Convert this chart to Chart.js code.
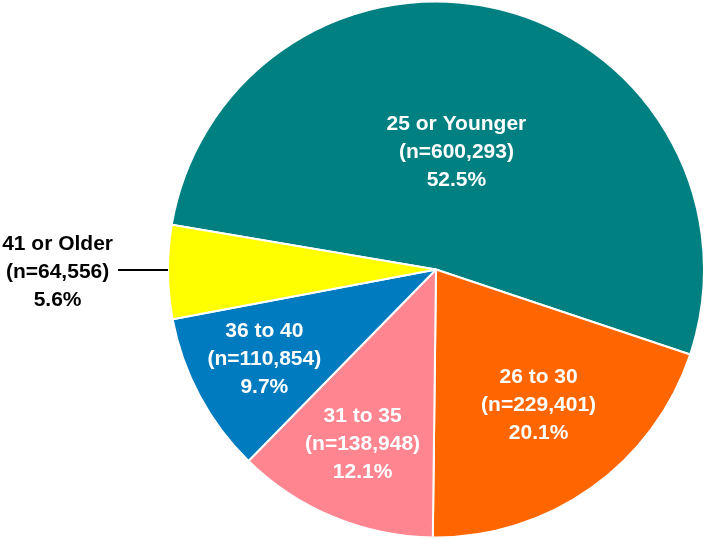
<!DOCTYPE html>
<html>
<head>
<meta charset="utf-8">
<script src="https://cdn.jsdelivr.net/npm/chart.js@4/dist/chart.umd.min.js"></script>
<style>
  html, body { margin: 0; padding: 0; background: #fff; }
  #wrap { width: 705px; height: 539px; }
</style>
</head>
<body>
<div id="wrap"><canvas id="pie"></canvas></div>
<script>
var categories = ['25 or Younger', '26 to 30', '31 to 35', '36 to 40', '41 or Older'];
var counts = [600293, 229401, 138948, 110854, 64556];
var shares = ['52.5%', '20.1%', '12.1%', '9.7%', '5.6%'];
var colors = ['#008080', '#FF6600', '#FF8690', '#007BC0', '#FFFF00'];

// where each label sits: fraction of radius and a small angle nudge (deg); null = outside with a line
var labelRadius = [0.45, 0.63, 0.70, 0.72, null];
var labelNudge = [-4.3, -2, 0.5, 1, 0];

var sliceLabels = {
    id: 'sliceLabels',
    afterDatasetsDraw: function (chart) {
        var ctx = chart.ctx;
        var arcs = chart.getDatasetMeta(0).data;
        ctx.save();
        ctx.font = 'bold 21px "Liberation Sans", Arial, sans-serif';
        ctx.textAlign = 'center';
        ctx.textBaseline = 'middle';
        arcs.forEach(function (arc, i) {
            var p = arc.getProps(['x', 'y', 'startAngle', 'endAngle', 'outerRadius'], true);
            var mid = (p.startAngle + p.endAngle) / 2 + labelNudge[i] * Math.PI / 180;
            var lines = [categories[i], '(n=' + counts[i].toLocaleString('en-US') + ')', shares[i]];
            var cx, cy;
            if (labelRadius[i] !== null) {
                var r = p.outerRadius * labelRadius[i];
                cx = p.x + Math.cos(mid) * r;
                cy = p.y + Math.sin(mid) * r;
                ctx.fillStyle = '#fff';
            } else {
                var ex = p.x + Math.cos(mid) * p.outerRadius;
                var ey = p.y + Math.sin(mid) * p.outerRadius;
                var lx = ex - 50;
                ctx.strokeStyle = '#000';
                ctx.lineWidth = 2;
                ctx.beginPath();
                ctx.moveTo(ex, ey - 2);
                ctx.lineTo(lx, ey - 2);
                ctx.stroke();
                var w = 0;
                lines.forEach(function (t) { w = Math.max(w, ctx.measureText(t).width); });
                cx = lx - 5 - w / 2;
                cy = ey - 2;
                ctx.fillStyle = '#000';
            }
            lines.forEach(function (t, k) {
                ctx.fillText(t, cx, cy + 2 + (k - 1) * 28);
            });
        });
        ctx.restore();
    }
};

new Chart(document.getElementById('pie'), {
    type: 'pie',
    data: {
        labels: categories,
        datasets: [{
            data: counts,
            backgroundColor: colors,
            borderColor: '#fff',
            borderWidth: 2
        }]
    },
    options: {
        responsive: true,
        maintainAspectRatio: false,
        animation: false,
        rotation: -80.4,
        layout: { padding: { left: 167 } },
        plugins: {
            legend: { display: false },
            tooltip: { enabled: false }
        }
    },
    plugins: [sliceLabels]
});
</script>
</body>
</html>
